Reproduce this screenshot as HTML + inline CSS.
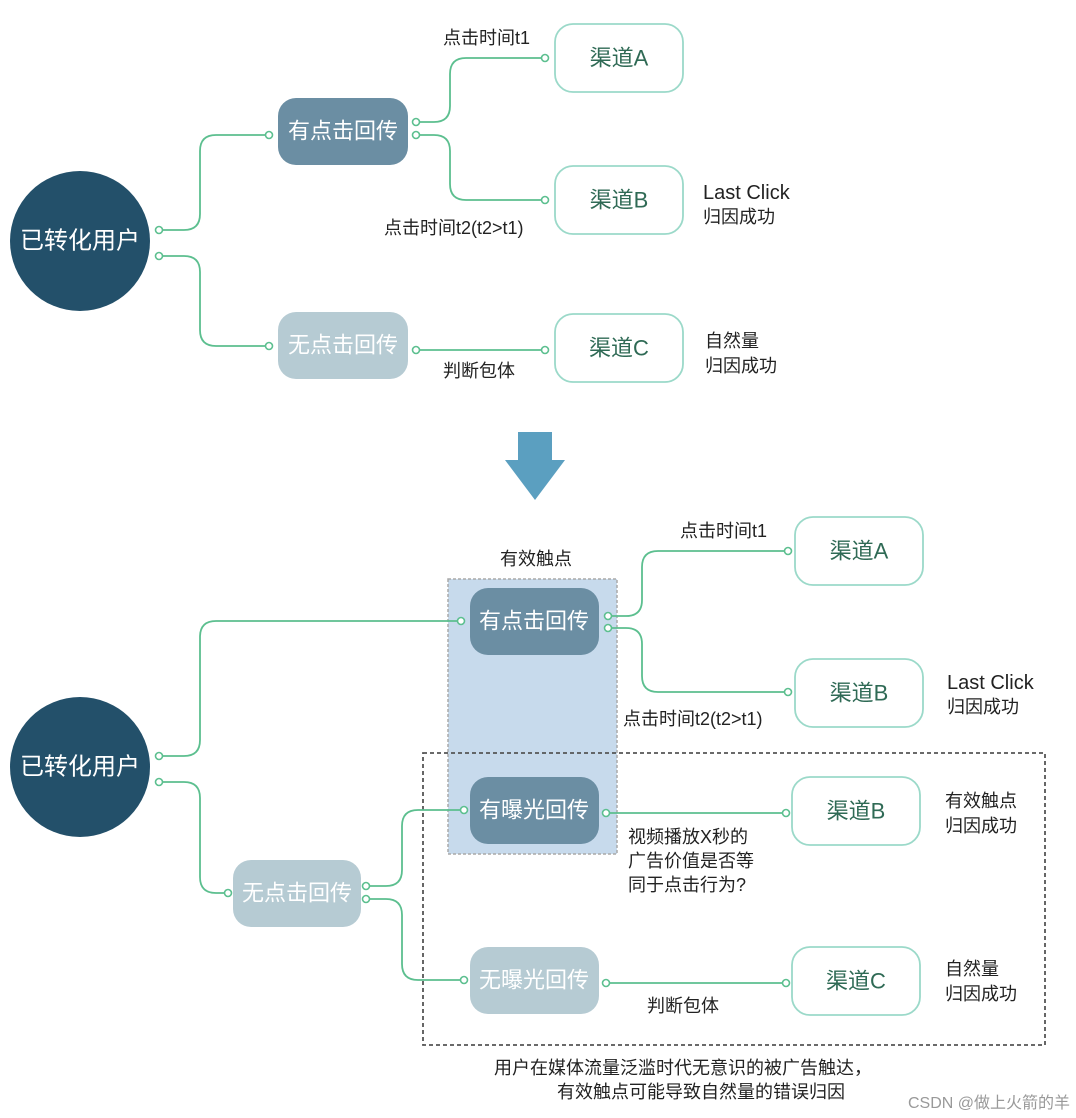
<!DOCTYPE html>
<html><head><meta charset="utf-8"><style>
body{margin:0;background:#fff}
svg{display:block}
text{font-family:"Liberation Sans","Noto Sans CJK SC",sans-serif}
.w{fill:#fff;font-size:22px;text-anchor:middle;dominant-baseline:central}
.g{fill:#2f6a55;font-size:22px;text-anchor:middle;dominant-baseline:central}
.l{fill:#222;font-size:18px}
.c{fill:none;stroke:#5cbf8f;stroke-width:1.8}
.d{fill:#fff;stroke:#5cbf8f;stroke-width:1.6}
.ch{fill:#fff;stroke:#9bd9c9;stroke-width:1.8}
</style></head><body>
<svg width="1076" height="1118" viewBox="0 0 1076 1118">
<!-- TOP -->
<circle cx="80" cy="241" r="70" fill="#23506a"/>
<text class="w" x="80" y="241" style="font-size:24px">已转化用户</text>
<rect x="278" y="98" width="130" height="67" rx="18" fill="#6b8ea3"/>
<text class="w" x="343" y="131">有点击回传</text>
<rect x="278" y="312" width="130" height="67" rx="18" fill="#b6cbd3"/>
<text class="w" x="343" y="345">无点击回传</text>
<rect x="555" y="24" width="128" height="68" rx="18" class="ch"/>
<text class="g" x="619" y="58">渠道A</text>
<rect x="555" y="166" width="128" height="68" rx="18" class="ch"/>
<text class="g" x="619" y="200">渠道B</text>
<rect x="555" y="314" width="128" height="68" rx="18" class="ch"/>
<text class="g" x="619" y="348">渠道C</text>
<path class="c" d="M162 230 H184 Q200 230 200 214 V151 Q200 135 216 135 H266"/>
<path class="c" d="M162 256 H184 Q200 256 200 272 V330 Q200 346 216 346 H266"/>
<path class="c" d="M419 122 H434 Q450 122 450 106 V74 Q450 58 466 58 H541"/>
<path class="c" d="M419 135 H434 Q450 135 450 151 V184 Q450 200 466 200 H541"/>
<path class="c" d="M419 350 H541"/>
<g class="d">
<circle cx="159" cy="230" r="3.5"/><circle cx="159" cy="256" r="3.5"/>
<circle cx="269" cy="135" r="3.5"/><circle cx="269" cy="346" r="3.5"/>
<circle cx="416" cy="122" r="3.5"/><circle cx="416" cy="135" r="3.5"/><circle cx="416" cy="350" r="3.5"/>
<circle cx="545" cy="58" r="3.5"/><circle cx="545" cy="200" r="3.5"/><circle cx="545" cy="350" r="3.5"/>
</g>
<text class="l" x="443" y="44">点击时间t1</text>
<text class="l" x="384" y="234">点击时间t2(t2&gt;t1)</text>
<text class="l" x="443" y="377">判断包体</text>
<text class="l" x="703" y="199" style="font-size:20px">Last Click</text>
<text class="l" x="703" y="223">归因成功</text>
<text class="l" x="705" y="347">自然量</text>
<text class="l" x="705" y="372">归因成功</text>
<!-- arrow -->
<polygon points="518,432 552,432 552,460 565,460 535,500 505,460 518,460" fill="#5b9fc0"/>
<!-- BOTTOM -->
<rect x="448" y="579" width="169" height="275" fill="#c7daec" stroke="#aaa" stroke-width="1.5" stroke-dasharray="3,2"/>
<rect x="423" y="753" width="622" height="292" fill="none" stroke="#555" stroke-width="1.8" stroke-dasharray="4,3"/>
<text class="l" x="536" y="565" text-anchor="middle">有效触点</text>
<circle cx="80" cy="767" r="70" fill="#23506a"/>
<text class="w" x="80" y="767" style="font-size:24px">已转化用户</text>
<rect x="470" y="588" width="129" height="67" rx="18" fill="#6b8ea3"/>
<text class="w" x="534" y="621">有点击回传</text>
<rect x="470" y="777" width="129" height="67" rx="18" fill="#6b8ea3"/>
<text class="w" x="534" y="810">有曝光回传</text>
<rect x="233" y="860" width="128" height="67" rx="18" fill="#b6cbd3"/>
<text class="w" x="297" y="893">无点击回传</text>
<rect x="470" y="947" width="129" height="67" rx="18" fill="#b6cbd3"/>
<text class="w" x="534" y="980">无曝光回传</text>
<rect x="795" y="517" width="128" height="68" rx="18" class="ch"/>
<text class="g" x="859" y="551">渠道A</text>
<rect x="795" y="659" width="128" height="68" rx="18" class="ch"/>
<text class="g" x="859" y="693">渠道B</text>
<rect x="792" y="777" width="128" height="68" rx="18" class="ch"/>
<text class="g" x="856" y="811">渠道B</text>
<rect x="792" y="947" width="128" height="68" rx="18" class="ch"/>
<text class="g" x="856" y="981">渠道C</text>
<path class="c" d="M162 756 H184 Q200 756 200 740 V637 Q200 621 216 621 H457"/>
<path class="c" d="M162 782 H184 Q200 782 200 798 V877 Q200 893 216 893 H225"/>
<path class="c" d="M369 886 H386 Q402 886 402 870 V826 Q402 810 418 810 H461"/>
<path class="c" d="M369 899 H386 Q402 899 402 915 V964 Q402 980 418 980 H461"/>
<path class="c" d="M611 616 H626 Q642 616 642 600 V567 Q642 551 658 551 H785"/>
<path class="c" d="M611 628 H626 Q642 628 642 644 V676 Q642 692 658 692 H785"/>
<path class="c" d="M609 813 H783"/>
<path class="c" d="M609 983 H783"/>
<g class="d">
<circle cx="159" cy="756" r="3.5"/><circle cx="159" cy="782" r="3.5"/>
<circle cx="461" cy="621" r="3.5"/><circle cx="228" cy="893" r="3.5"/>
<circle cx="366" cy="886" r="3.5"/><circle cx="366" cy="899" r="3.5"/>
<circle cx="464" cy="810" r="3.5"/><circle cx="464" cy="980" r="3.5"/>
<circle cx="608" cy="616" r="3.5"/><circle cx="608" cy="628" r="3.5"/>
<circle cx="606" cy="813" r="3.5"/><circle cx="606" cy="983" r="3.5"/>
<circle cx="788" cy="551" r="3.5"/><circle cx="788" cy="692" r="3.5"/>
<circle cx="786" cy="813" r="3.5"/><circle cx="786" cy="983" r="3.5"/>
</g>
<text class="l" x="680" y="537">点击时间t1</text>
<text class="l" x="623" y="725">点击时间t2(t2&gt;t1)</text>
<text class="l" x="947" y="689" style="font-size:20px">Last Click</text>
<text class="l" x="947" y="713">归因成功</text>
<text class="l" x="628" y="843">视频播放X秒的</text>
<text class="l" x="628" y="867">广告价值是否等</text>
<text class="l" x="628" y="891">同于点击行为?</text>
<text class="l" x="945" y="807">有效触点</text>
<text class="l" x="945" y="832">归因成功</text>
<text class="l" x="945" y="975">自然量</text>
<text class="l" x="945" y="1000">归因成功</text>
<text class="l" x="647" y="1012">判断包体</text>
<text class="l" x="683" y="1074" text-anchor="middle">用户在媒体流量泛滥时代无意识的被广告触达，</text>
<text class="l" x="701" y="1098" text-anchor="middle">有效触点可能导致自然量的错误归因</text>
<text x="1070" y="1108" text-anchor="end" style="font-size:16px;fill:#999">CSDN @做上火箭的羊</text>
</svg>
</body></html>
